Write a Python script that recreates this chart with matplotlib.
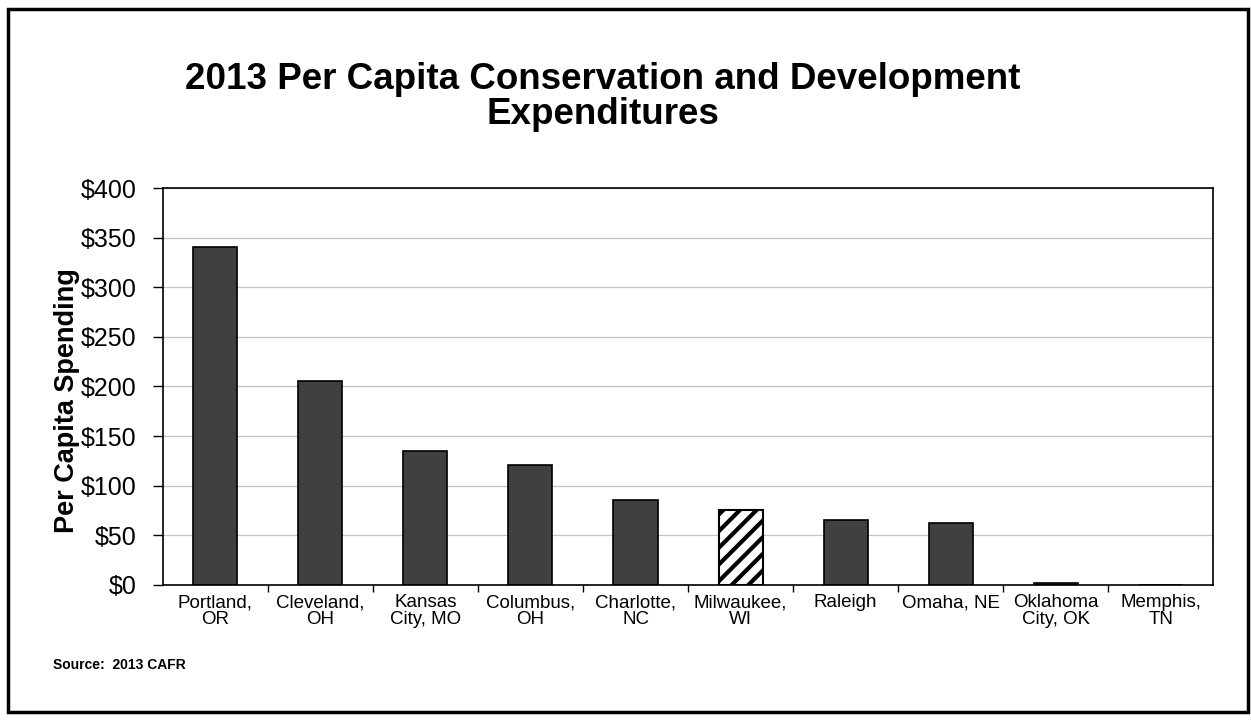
import matplotlib.pyplot as plt
from matplotlib.patches import Rectangle
from matplotlib.ticker import MultipleLocator, FuncFormatter

cities = ['Portland,\nOR', 'Cleveland,\nOH', 'Kansas\nCity, MO', 'Columbus,\nOH', 'Charlotte,\nNC',
          'Milwaukee,\nWI', 'Raleigh', 'Omaha, NE', 'Oklahoma\nCity, OK', 'Memphis,\nTN']
spending = [341, 205, 135, 121, 85, 75, 65, 62, 2, 0]
highlight = 'Milwaukee,\nWI'

plt.rcParams['font.family'] = ['Liberation Sans', 'DejaVu Sans']
plt.rcParams['hatch.linewidth'] = 3.0

fig = plt.figure(figsize=(12.51, 7.21), dpi=100)
ax = fig.add_axes([0.130, 0.189, 0.840, 0.550])

# border around the whole page
fig.patches.append(Rectangle((0.006, 0.012), 0.992, 0.976, transform=fig.transFigure,
                             fill=False, edgecolor='black', linewidth=2.5))

x = list(range(len(cities)))
for i, (c, v) in enumerate(zip(cities, spending)):
    if c == highlight:
        ax.bar(i, v, width=0.42, color='white', edgecolor='black', hatch='//', linewidth=1.5)
    else:
        ax.bar(i, v, width=0.42, color='#404040', edgecolor='black', linewidth=1.2)

ax.set_xlim(-0.5, len(cities) - 0.5)
ax.set_ylim(0, 400)
ax.yaxis.set_major_locator(MultipleLocator(50))
ax.yaxis.set_major_formatter(FuncFormatter(lambda v, p: '$%d' % v))
ax.grid(axis='y', color='#c4c4c4', linewidth=0.9)
ax.set_axisbelow(True)
for s in ax.spines.values():
    s.set_linewidth(1.2)

ax.set_xticks(x)
ax.set_xticklabels(cities, fontsize=13.5, linespacing=0.95)
ax.tick_params(axis='x', length=0, pad=7)
ax.set_xticks([i + 0.5 for i in x[:-1]], minor=True)
ax.tick_params(axis='x', which='minor', length=5, width=1)
ax.tick_params(axis='y', labelsize=18, length=7, width=1, pad=12)

# label sits over the "$" signs like in the original
ax.set_ylabel('Per Capita Spending', fontsize=19.5, fontweight='bold')
ax.yaxis.set_label_coords(-0.079, 0.465)

fig.text(0.482, 0.866, '2013 Per Capita Conservation and Development\nExpenditures',
         ha='center', va='center', fontsize=26.5, fontweight='bold', linespacing=1.0)
fig.text(0.042, 0.072, 'Source:  2013 CAFR', fontsize=10, fontweight='bold')

fig.savefig('out.png', dpi=100)
